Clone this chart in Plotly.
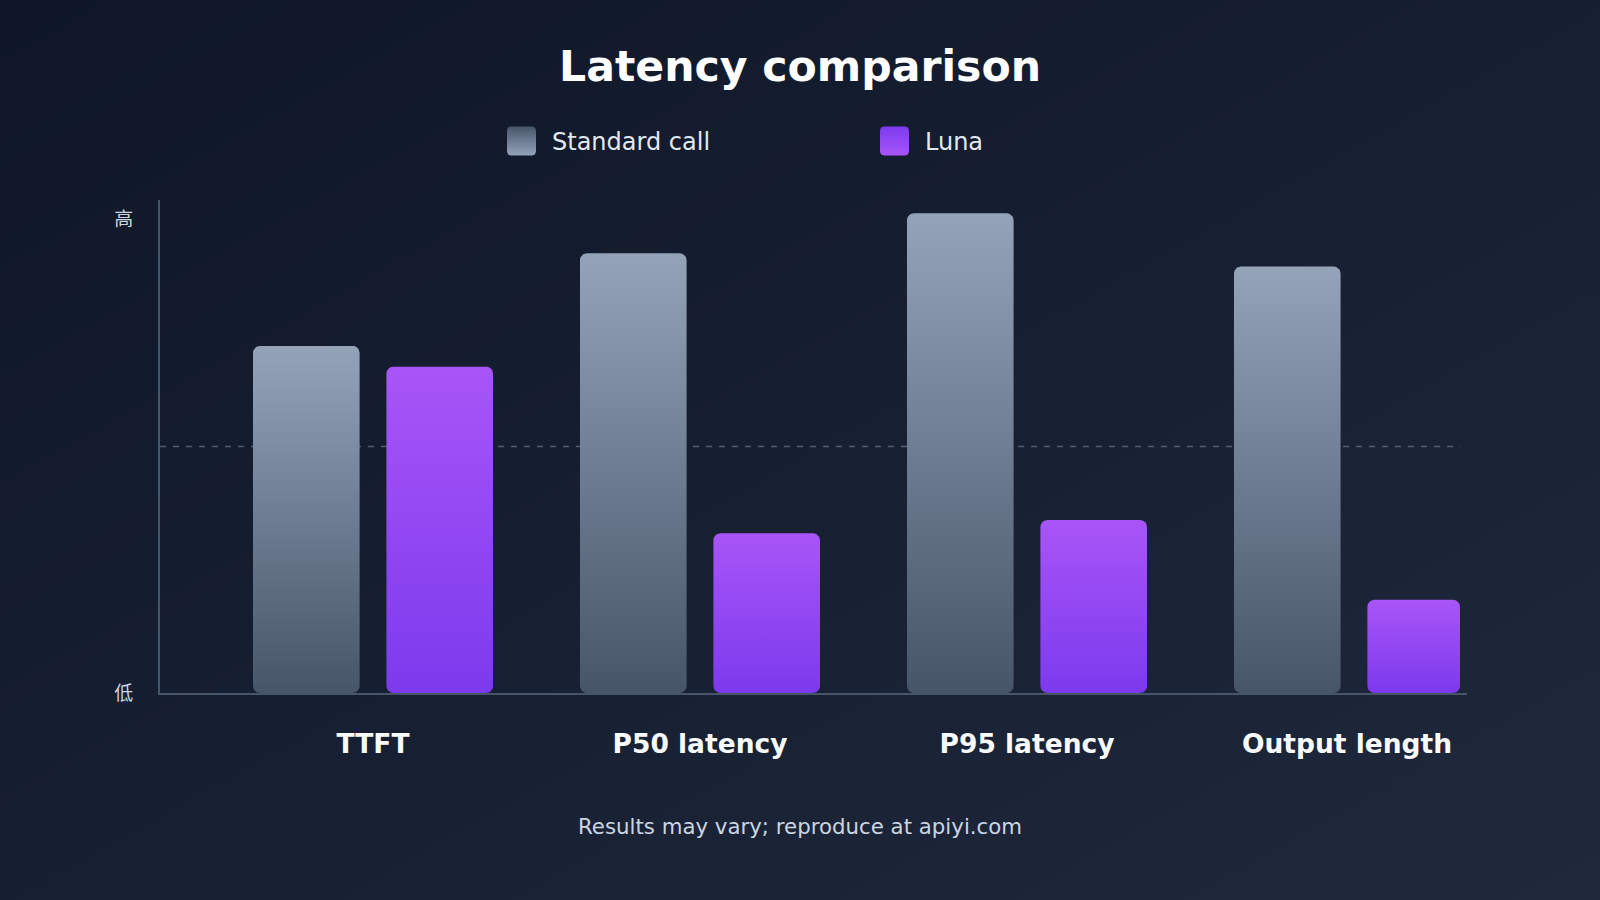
import base64
import struct
import zlib

import numpy as np
import plotly.graph_objects as go

# ---------------- data ----------------
categories = ["TTFT", "P50 latency", "P95 latency", "Output length"]
standard_call = [70.4, 89.2, 97.3, 86.5]
luna = [66.2, 32.4, 35.1, 18.9]
y_tick_vals = [0, 96]
y_tick_text = ["低", "高"]
series_names = ["Standard call", "Luna"]
mid_line_value = 50

# ---------------- style / layout constants ----------------
W, H = 1600, 900
PX_L, PX_R, PX_T, PX_B = 160, 1467, 200, 693
X_RANGE = [-0.6514, 3.3456]
Y_RANGE = [0, 100]
BAR_W = 0.326
BAR_OFF = 0.204
RADIUS_PX = 7
GREY = ("#475569", "#94a3b8")      # bottom, top
PURPLE = ("#7c3aed", "#a855f7")
FONT = "DejaVu Sans, Noto Sans CJK SC, sans-serif"

ux = (X_RANGE[1] - X_RANGE[0]) / (PX_R - PX_L)   # data units per px
uy = (Y_RANGE[1] - Y_RANGE[0]) / (PX_B - PX_T)


def rounded_rect(x0, x1, y0, y1, rx, ry, n=8):
    xs, ys = [], []
    corners = [
        (x1 - rx, y1 - ry, 0, 90),
        (x0 + rx, y1 - ry, 90, 180),
        (x0 + rx, y0 + ry, 180, 270),
        (x1 - rx, y0 + ry, 270, 360),
    ]
    for cx, cy, a0, a1 in corners:
        for a in np.linspace(np.radians(a0), np.radians(a1), n):
            xs.append(cx + rx * np.cos(a))
            ys.append(cy + ry * np.sin(a))
    xs.append(xs[0])
    ys.append(ys[0])
    return xs, ys


def gradient_png(w, h, c0, c1):
    rows = bytearray()
    for j in range(h):
        rows.append(0)
        for i in range(w):
            t = (i / (w - 1)) * 0.5 + (j / (h - 1)) * 0.5
            for k in range(3):
                rows.append(int(round(c0[k] + (c1[k] - c0[k]) * t)))

    def chunk(tag, data):
        c = struct.pack(">I", len(data)) + tag + data
        return c + struct.pack(">I", zlib.crc32(tag + data) & 0xFFFFFFFF)

    png = b"\x89PNG\r\n\x1a\n"
    png += chunk(b"IHDR", struct.pack(">IIBBBBB", w, h, 8, 2, 0, 0, 0))
    png += chunk(b"IDAT", zlib.compress(bytes(rows), 9))
    png += chunk(b"IEND", b"")
    return "data:image/png;base64," + base64.b64encode(png).decode()


fig = go.Figure()

# bars as gradient-filled rounded rectangles on the data axes
group_extent = [[None, None] for _ in categories]
for vals, off, cols in [(standard_call, -BAR_OFF, GREY), (luna, BAR_OFF, PURPLE)]:
    for i, v in enumerate(vals):
        x0 = i + off - BAR_W / 2
        x1 = i + off + BAR_W / 2
        limit = X_RANGE[1] - 7 * ux
        if x1 > limit:
            x1 = limit
        lo, hi = group_extent[i]
        group_extent[i] = [x0 if lo is None else min(lo, x0),
                           x1 if hi is None else max(hi, x1)]
        xs, ys = rounded_rect(x0, x1, 0, v, RADIUS_PX * ux, RADIUS_PX * uy)
        fig.add_trace(go.Scatter(
            x=xs, y=ys, mode="lines", fill="toself",
            line=dict(width=0, color=cols[1]),
            fillgradient=dict(type="vertical",
                              colorscale=[[0, cols[0]], [1, cols[1]]]),
            hoverinfo="skip", showlegend=False, xaxis="x", yaxis="y",
        ))

tick_positions = [(a + b) / 2 for a, b in group_extent]

# legend swatches on a full-page pixel overlay axis
legend_items = [(507, 550, GREY, series_names[0]), (880, 923, PURPLE, series_names[1])]
for sx, tx, cols, name in legend_items:
    xs, ys = rounded_rect(sx, sx + 29, 126.5, 155.5, 4, 4)
    fig.add_trace(go.Scatter(
        x=xs, y=ys, mode="lines", fill="toself",
        line=dict(width=0, color=cols[1]),
        fillgradient=dict(type="vertical",
                          colorscale=[[0, cols[1]], [1, cols[0]]]),
        hoverinfo="skip", showlegend=False, xaxis="x2", yaxis="y2",
    ))
    fig.add_annotation(x=tx / W, y=1 - 142 / H, xref="paper", yref="paper",
                       text=name, showarrow=False, xanchor="left", yanchor="middle",
                       font=dict(family=FONT, size=24, color="#e2e8f0"))

fig.add_shape(type="line", xref="x domain", yref="y", x0=0, x1=0.995,
              y0=mid_line_value, y1=mid_line_value,
              line=dict(color="rgba(100,116,139,0.75)", width=1.3, dash="6px,7px"),
              layer="below")

fig.add_annotation(x=0.5, y=1 - 66 / H, xref="paper", yref="paper",
                   text="<b>Latency comparison</b>", showarrow=False,
                   xanchor="center", yanchor="middle",
                   font=dict(family=FONT, size=42.6, color="#ffffff"))
fig.add_annotation(x=0.5, y=1 - 826 / H, xref="paper", yref="paper",
                   text="Results may vary; reproduce at apiyi.com", showarrow=False,
                   xanchor="center", yanchor="middle",
                   font=dict(family=FONT, size=21.3, color="#cbd5e1"))

fig.add_layout_image(dict(
    source=gradient_png(320, 180, (14, 22, 40), (31, 41, 59)),
    xref="paper", yref="paper", x=0, y=1, sizex=1, sizey=1,
    xanchor="left", yanchor="top", sizing="stretch", layer="below",
))

fig.update_layout(
    width=W, height=H,
    autosize=False,
    margin=dict(l=0, r=0, t=0, b=0, pad=0, autoexpand=False),
    paper_bgcolor="#111827",
    plot_bgcolor="rgba(0,0,0,0)",
    showlegend=False,
    xaxis=dict(
        domain=[PX_L / W, PX_R / W], range=X_RANGE, anchor="y",
        tickvals=tick_positions, ticktext=categories,
        tickfont=dict(family=FONT, size=26.5, color="#f8fafc", weight="bold"),
        ticks="", ticklabelstandoff=26, automargin=False,
        showline=True, linecolor="#475569", linewidth=2,
        showgrid=False, zeroline=False, fixedrange=True,
    ),
    yaxis=dict(
        domain=[1 - PX_B / H, 1 - PX_T / H], range=Y_RANGE, anchor="x",
        tickvals=y_tick_vals, ticktext=y_tick_text,
        tickfont=dict(family=FONT, size=19, color="#cbd5e1"),
        ticks="", ticklabelstandoff=21, automargin=False,
        showline=True, linecolor="#475569", linewidth=2,
        showgrid=False, zeroline=False, fixedrange=True,
    ),
    xaxis2=dict(domain=[0, 1], range=[0, W], anchor="y2", visible=False,
                automargin=False, fixedrange=True),
    yaxis2=dict(domain=[0, 1], range=[H, 0], anchor="x2", visible=False,
                automargin=False, fixedrange=True),
)

fig.write_html("out.html")
